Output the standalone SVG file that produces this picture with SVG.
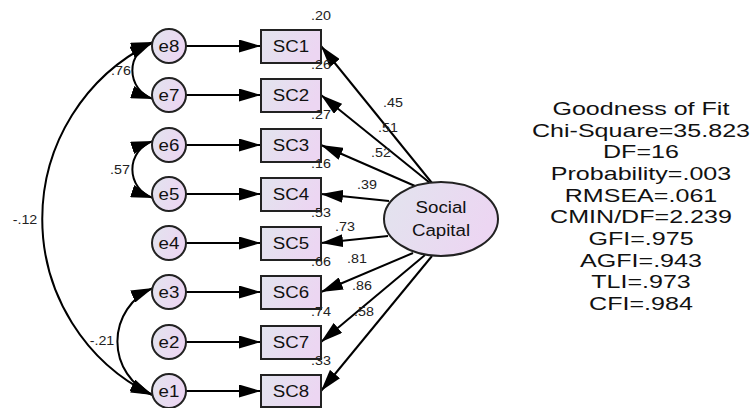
<svg xmlns="http://www.w3.org/2000/svg" width="754" height="408" viewBox="0 0 754 408">
<defs>
<linearGradient id="g" x1="0" y1="0" x2="1" y2="0.3">
<stop offset="0" stop-color="#e2e4ee"/>
<stop offset="1" stop-color="#ecd6f2"/>
</linearGradient>
<marker id="ah" viewBox="0 0 22 13" refX="22" refY="6.5" markerWidth="22" markerHeight="13" markerUnits="userSpaceOnUse" orient="auto-start-reverse">
<path d="M0,0 L22,6.5 L0,13 z" fill="#000"/>
</marker>
<style>
.sh{fill:url(#g);stroke:#222;stroke-width:2}
.c{fill:none;stroke:#000;stroke-width:2;marker-end:url(#ah)}
.cv{fill:none;stroke:#000;stroke-width:2;marker-start:url(#ah);marker-end:url(#ah)}
text{transform-box:fill-box;transform-origin:center}
.t{font-family:"Liberation Sans",Arial,sans-serif;font-size:17px;fill:#111;text-anchor:middle;transform:scaleX(1.1)}
.l{font-family:"Liberation Sans",Arial,sans-serif;font-size:13px;fill:#222;text-anchor:middle;transform:scaleX(1.1)}
.gof{font-family:"Liberation Sans",Arial,sans-serif;font-size:19px;fill:#111;text-anchor:middle;transform:scaleX(1.32)}
</style>
</defs>
<g id="connectors">
<path class="c" d="M186,46 L261,46"/>
<path class="c" d="M186,95 L261,95"/>
<path class="c" d="M186,145 L261,145"/>
<path class="c" d="M186,194 L261,194"/>
<path class="c" d="M186,243 L261,243"/>
<path class="c" d="M186,292 L261,292"/>
<path class="c" d="M186,342 L261,342"/>
<path class="c" d="M186,391 L261,391"/>
<path class="c" d="M432,183 L321,46"/>
<path class="c" d="M430,183 L321,95"/>
<path class="c" d="M415,186 L321,145"/>
<path class="c" d="M389,201 L321,194"/>
<path class="c" d="M388,236 L321,243"/>
<path class="c" d="M413,253 L321,292"/>
<path class="c" d="M425,255 L321,342"/>
<path class="c" d="M432,256 L321,391"/>
<path class="cv" d="M153,42 A30,30 0 0 0 153,99"/>
<path class="cv" d="M153,141 A30,30 0 0 0 153,198"/>
<path class="cv" d="M153,288 A58,58 0 0 0 153,395"/>
<path class="cv" d="M152,43 A196,196 0 0 0 152,395"/>
<text class="l" x="121" y="75">.76</text>
<text class="l" x="120" y="174">.57</text>
<text class="l" x="25" y="224">-.12</text>
<text class="l" x="102" y="345">-.21</text>
<text class="l" x="393" y="107">.45</text>
<text class="l" x="388" y="132">.51</text>
<text class="l" x="381" y="157">.52</text>
<text class="l" x="367" y="189">.39</text>
<text class="l" x="345" y="231">.73</text>
<text class="l" x="357" y="263">.81</text>
<text class="l" x="362" y="290">.86</text>
<text class="l" x="364" y="316">.58</text>
</g>
<g id="e8"><circle class="sh" cx="169" cy="46" r="17"/><text class="t" x="169" y="52">e8</text></g>
<g id="e7"><circle class="sh" cx="169" cy="95" r="17"/><text class="t" x="169" y="101">e7</text></g>
<g id="e6"><circle class="sh" cx="169" cy="145" r="17"/><text class="t" x="169" y="151">e6</text></g>
<g id="e5"><circle class="sh" cx="169" cy="194" r="17"/><text class="t" x="169" y="200">e5</text></g>
<g id="e4"><circle class="sh" cx="169" cy="243" r="17"/><text class="t" x="169" y="249">e4</text></g>
<g id="e3"><circle class="sh" cx="169" cy="292" r="17"/><text class="t" x="169" y="298">e3</text></g>
<g id="e2"><circle class="sh" cx="169" cy="342" r="17"/><text class="t" x="169" y="348">e2</text></g>
<g id="e1"><circle class="sh" cx="169" cy="391" r="17"/><text class="t" x="169" y="397">e1</text></g>
<g id="SC1"><rect class="sh" x="261" y="30" width="60" height="33"/><text class="t" x="291" y="52">SC1</text><text class="l" x="321" y="20">.20</text></g>
<g id="SC2"><rect class="sh" x="261" y="79" width="60" height="33"/><text class="t" x="291" y="101">SC2</text><text class="l" x="321" y="69">.26</text></g>
<g id="SC3"><rect class="sh" x="261" y="129" width="60" height="33"/><text class="t" x="291" y="151">SC3</text><text class="l" x="321" y="119">.27</text></g>
<g id="SC4"><rect class="sh" x="261" y="178" width="60" height="33"/><text class="t" x="291" y="200">SC4</text><text class="l" x="321" y="168">.16</text></g>
<g id="SC5"><rect class="sh" x="261" y="227" width="60" height="33"/><text class="t" x="291" y="249">SC5</text><text class="l" x="321" y="217">.53</text></g>
<g id="SC6"><rect class="sh" x="261" y="276" width="60" height="33"/><text class="t" x="291" y="298">SC6</text><text class="l" x="321" y="266">.66</text></g>
<g id="SC7"><rect class="sh" x="261" y="326" width="60" height="33"/><text class="t" x="291" y="348">SC7</text><text class="l" x="321" y="316">.74</text></g>
<g id="SC8"><rect class="sh" x="261" y="375" width="60" height="32"/><text class="t" x="291" y="397">SC8</text><text class="l" x="321" y="365">.33</text></g>
<g id="SocialCapital"><ellipse class="sh" cx="441" cy="219" rx="57" ry="37"/><text class="t" x="441" y="213">Social</text><text class="t" x="441" y="236">Capital</text></g>
<g id="fit">
<text class="gof" x="641" y="115">Goodness of Fit</text>
<text class="gof" x="641" y="137">Chi-Square=35.823</text>
<text class="gof" x="641" y="158">DF=16</text>
<text class="gof" x="641" y="180">Probability=.003</text>
<text class="gof" x="641" y="202">RMSEA=.061</text>
<text class="gof" x="641" y="223">CMIN/DF=2.239</text>
<text class="gof" x="641" y="245">GFI=.975</text>
<text class="gof" x="641" y="267">AGFI=.943</text>
<text class="gof" x="641" y="288">TLI=.973</text>
<text class="gof" x="641" y="310">CFI=.984</text>
</g>
</svg>
